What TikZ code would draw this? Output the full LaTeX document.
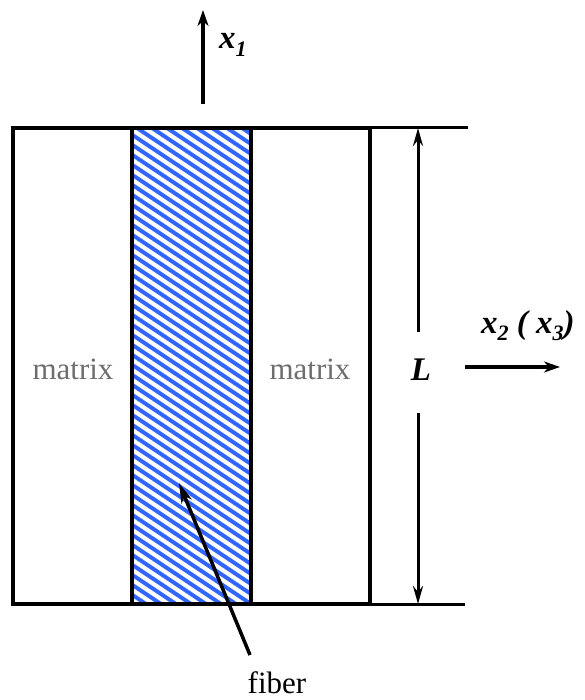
\documentclass[tikz,border=0pt]{standalone}
\usepackage{fontspec}
\setmainfont{Liberation Serif}
\usetikzlibrary{arrows.meta}
\definecolor{hatchblue}{RGB}{51,102,255}
\definecolor{matrixgray}{RGB}{110,110,110}
\tikzset{
  frame/.style={line width=4pt},
  dimline/.style={line width=3pt},
  axisarrow/.style={line width=3.5pt,-{Stealth[length=16pt,width=11pt,inset=5pt]}},
  dimarrow/.style={line width=3pt,-{Stealth[length=18pt,width=10pt,inset=6pt]}},
  hatchline/.style={hatchblue,line width=4pt},
  axislabel/.style={font=\fontsize{33}{38}\selectfont\bfseries\itshape,inner sep=0pt},
  plainlabel/.style={font=\fontsize{31}{37}\selectfont,inner sep=0pt},
}
\newcommand{\subs}[1]{\raisebox{-0.22em}{\fontsize{22}{26}\selectfont #1}}
\begin{document}
\begin{tikzpicture}[x=1pt,y=-1pt]
\useasboundingbox (0,0) rectangle (584,700);
% hatch of fiber
\begin{scope}
  \clip (132,128) rectangle (251,604);
  \foreach \k in {0,...,60} {
    \draw[hatchline] (251-15*\k,124) -- ++(900,600);
  }
\end{scope}
% coordinates
\coordinate (tl) at (13,128);
\coordinate (br) at (370,604);
\coordinate (ftl) at (132,128);
\coordinate (fbr) at (251,604);
\coordinate (topend) at (468,128);
\coordinate (botend) at (465,604);
\coordinate (dimtop) at (418,128);
\coordinate (dimbot) at (418,604);
\coordinate (dimup) at (418,332);
\coordinate (dimdown) at (418,413);
\coordinate (x1s) at (203,104);
\coordinate (x1e) at (203,10);
\coordinate (x2s) at (465,367);
\coordinate (x2e) at (560,367);
\coordinate (fibs) at (250,655);
\coordinate (fibe) at (179,483);
% frames
\draw[frame] (tl) rectangle (br);
\draw[frame] (ftl) -- (132,604);
\draw[frame] (251,128) -- (fbr);
\draw[dimline] (tl) -- (topend);
\draw[dimline] (13,604) -- (botend);
% dimension L
\draw[dimarrow] (dimup) -- (dimtop);
\draw[dimarrow] (dimdown) -- (dimbot);
\node[axislabel] (L) at (421,370) {L};
% axes
\draw[axisarrow] (x1s) -- (x1e);
\node[axislabel,anchor=west] (x1) at (219,45) {x\subs{1}};
\draw[axisarrow] (x2s) -- (x2e);
\node[axislabel,anchor=west] (x2) at (481,326) {x\subs{2} ( x\subs{3})};
% texts
\node[plainlabel,text=matrixgray] (m1) at (73,369) {matrix};
\node[plainlabel,text=matrixgray] (m2) at (310,369) {matrix};
\node[plainlabel] (fib) at (277,683) {fiber};
\draw[axisarrow,-{Stealth[length=20pt,width=11pt,inset=6pt]}] (fibs) -- (fibe);
\end{tikzpicture}
\end{document}
